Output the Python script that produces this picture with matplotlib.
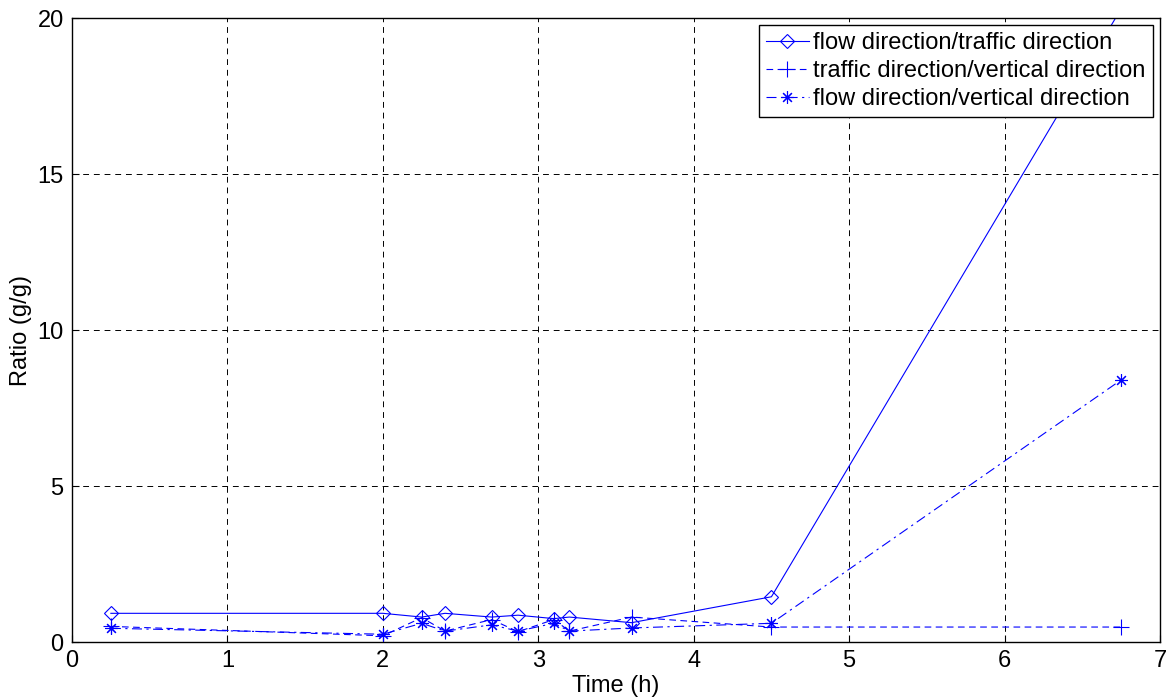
import numpy as np
import matplotlib.pyplot as plt

plt.rcParams['font.family'] = ['Liberation Sans', 'DejaVu Sans']

time_h = [0.25, 2.0, 2.25, 2.4, 2.7, 2.87, 3.1, 3.2, 3.6, 4.5, 6.75]
flow_traffic = [0.92, 0.92, 0.8, 0.92, 0.8, 0.86, 0.75, 0.8, 0.62, 1.45, 20.3]
traffic_vertical = [0.5, 0.2, 0.78, 0.35, 0.72, 0.33, 0.72, 0.35, 0.8, 0.48, 0.48]
flow_vertical = [0.44, 0.25, 0.6, 0.35, 0.55, 0.35, 0.6, 0.35, 0.45, 0.6, 8.4]

fig = plt.figure(figsize=(11.69, 6.98), dpi=100)
ax = fig.add_axes([0.0616, 0.0802, 0.9307, 0.8940])

blue = (0, 0, 1)
ax.plot(time_h, flow_traffic, color=blue, linestyle='-', linewidth=0.8,
        marker='D', markersize=7, markerfacecolor='none', markeredgewidth=0.8,
        label='flow direction/traffic direction')
ax.plot(time_h, traffic_vertical, color=blue, linestyle=(0, (6, 4)), linewidth=0.8,
        marker='+', markersize=11, markeredgewidth=0.8,
        label='traffic direction/vertical direction')
ax.plot(time_h, flow_vertical, color=blue, linestyle=(0, (9, 4, 2, 4)), linewidth=0.8,
        marker=(8, 2, 0), markersize=9, markeredgewidth=0.8,
        label='flow direction/vertical direction')

ax.set_xlim(0, 7)
ax.set_ylim(0, 20)
ax.set_xticks(range(0, 8))
ax.set_yticks([0, 5, 10, 15, 20])
ax.grid(True, color='k', linestyle=(0, (6, 5)), linewidth=0.7)
ax.tick_params(direction='in', length=5, labelsize=17, pad=6)
for s in ax.spines.values():
    s.set_linewidth(1.0)

ax.set_xlabel('Time (h)', fontsize=17, labelpad=2)
ax.set_ylabel('Ratio (g/g)', fontsize=17, labelpad=4)

leg = ax.legend(loc='upper right', fontsize=17, fancybox=False, edgecolor='k',
                framealpha=1, handlelength=1.8, borderaxespad=0.3,
                borderpad=0.3, labelspacing=0.25, handletextpad=0.2)
leg.get_frame().set_linewidth(1.0)

fig.savefig('out.png', dpi=100)
